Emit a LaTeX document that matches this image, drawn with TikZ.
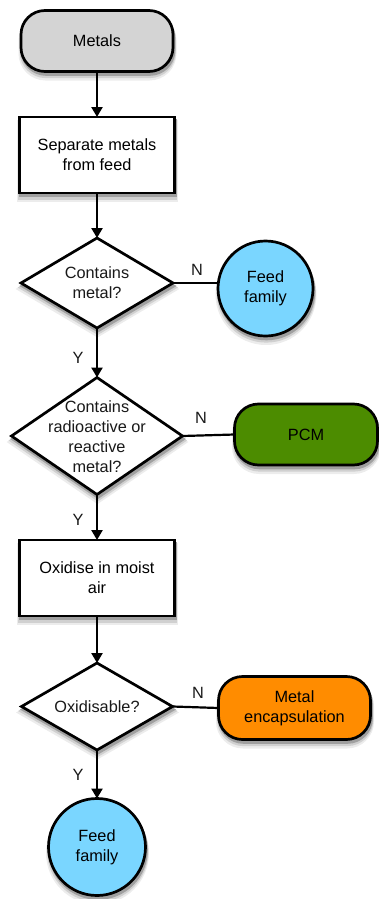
\documentclass[tikz,border=0pt]{standalone}
\usepackage{fontspec}
\setmainfont{Liberation Sans}
\usetikzlibrary{shapes.geometric,arrows.meta}
\definecolor{grayfill}{RGB}{212,212,212}
\definecolor{bluefill}{RGB}{122,214,255}
\definecolor{greenfill}{RGB}{76,140,0}
\definecolor{orangefill}{RGB}{255,140,0}
\definecolor{shA}{RGB}{236,236,236}
\definecolor{shB}{RGB}{208,208,208}
\definecolor{shC}{RGB}{160,160,160}
% shadow layers behind a shape: #1 shape style, #2 x, #3 y, #4 name
\newcommand\mkshadow[4]{%
  \foreach \i/\dx/\dy/\col/\lw in {1/0.5/6/shA/6,2/0.8/4.5/shB/4.2,3/1/3/shC/2.6}{%
    \node[#1,draw=\col,fill=\col,line width=\lw pt] (sh-#4-\i) at (#2+\dx,#3+\dy) {};}}
\begin{document}
\begin{tikzpicture}[x=1pt,y=-1pt,
  font=\fontsize{16.3}{20}\selectfont,
  base/.style={inner sep=0pt,outer sep=0pt,align=center},
  termA/.style={base,rectangle,rounded corners=24pt,minimum width=152pt,minimum height=61pt},
  termP/.style={base,rectangle,rounded corners=24pt,minimum width=143pt,minimum height=61pt},
  termE/.style={base,rectangle,rounded corners=24pt,minimum width=152pt,minimum height=63pt},
  boxS/.style={base,rectangle,minimum width=155pt,minimum height=76pt},
  diaA/.style={base,diamond,minimum width=152pt,minimum height=90pt},
  diaB/.style={base,diamond,minimum width=171pt,minimum height=117pt},
  diaC/.style={base,diamond,minimum width=151pt,minimum height=87pt},
  circA/.style={base,circle,minimum size=95pt},
  circB/.style={base,circle,minimum size=97pt},
  outl/.style={draw=black,line width=2.7pt},
  txt/.style={align=center,inner sep=0pt,text=black!90},
  arr/.style={line width=2.8pt,-{Triangle[width=11pt,length=10pt]}},
  con/.style={line width=2.2pt},
  lab/.style={inner sep=0pt,text=black!90}
]
\useasboundingbox (0,0) rectangle (379,899);
% shadows
\mkshadow{termA}{97}{41}{metals}
\mkshadow{boxS}{97}{155}{sep}
\mkshadow{diaA}{97}{283}{d1}
\mkshadow{circA}{265.5}{288.5}{ff1}
\mkshadow{diaB}{97}{436}{d2}
\mkshadow{termP}{306}{434.5}{pcm}
\mkshadow{boxS}{97}{578}{ox}
\mkshadow{diaC}{97}{706.5}{d3}
\mkshadow{termE}{294.5}{708}{enc}
\mkshadow{circB}{97}{847}{ff2}
% nodes
\node[termA,outl,fill=grayfill] (metals) at (97,41) {Metals};
\node[boxS,outl,fill=white] (sep) at (97,155) {Separate metals\\from feed};
\node[diaA,outl,fill=white] (d1) at (97,283) {};
\node[txt] (d1t) at (d1) {Contains\\metal?};
\node[circA,outl,fill=bluefill] (ff1) at (265.5,288.5) {Feed\\family};
\node[diaB,outl,fill=white] (d2) at (97,436) {};
\node[txt] (d2t) at (97,437) {Contains\\radioactive or\\reactive\\metal?};
\node[termP,outl,fill=greenfill] (pcm) at (306,434.5) {PCM};
\node[boxS,outl,fill=white] (ox) at (97,578) {Oxidise in moist\\air};
\node[diaC,outl,fill=white] (d3) at (97,706.5) {};
\node[txt] (d3t) at (d3) {Oxidisable?};
\node[termE,outl,fill=orangefill] (enc) at (294.5,708) {Metal\\encapsulation};
\node[circB,outl,fill=bluefill] (ff2) at (97,847) {Feed\\family};
% connectors
\draw[arr] (metals.south) -- (sep.north);
\draw[arr] (sep.south) -- (d1.north);
\draw[con] (d1.east) -- (d1.east -| ff1.west);
\draw[arr] (d1.south) -- (d2.north);
\draw[con] (d2.east) -- (pcm.west);
\draw[arr] (d2.south) -- (ox.north);
\draw[arr] (ox.south) -- (d3.north);
\draw[con] (d3.east) -- (enc.west);
\draw[arr] (d3.south) -- (ff2.north);
% labels
\node[lab] (n1) at (197,270) {N};
\node[lab] (y1) at (78,358) {Y};
\node[lab] (n2) at (201,418) {N};
\node[lab] (y2) at (78,520) {Y};
\node[lab] (n3) at (198,693) {N};
\node[lab] (y3) at (78,775) {Y};
\end{tikzpicture}
\end{document}
